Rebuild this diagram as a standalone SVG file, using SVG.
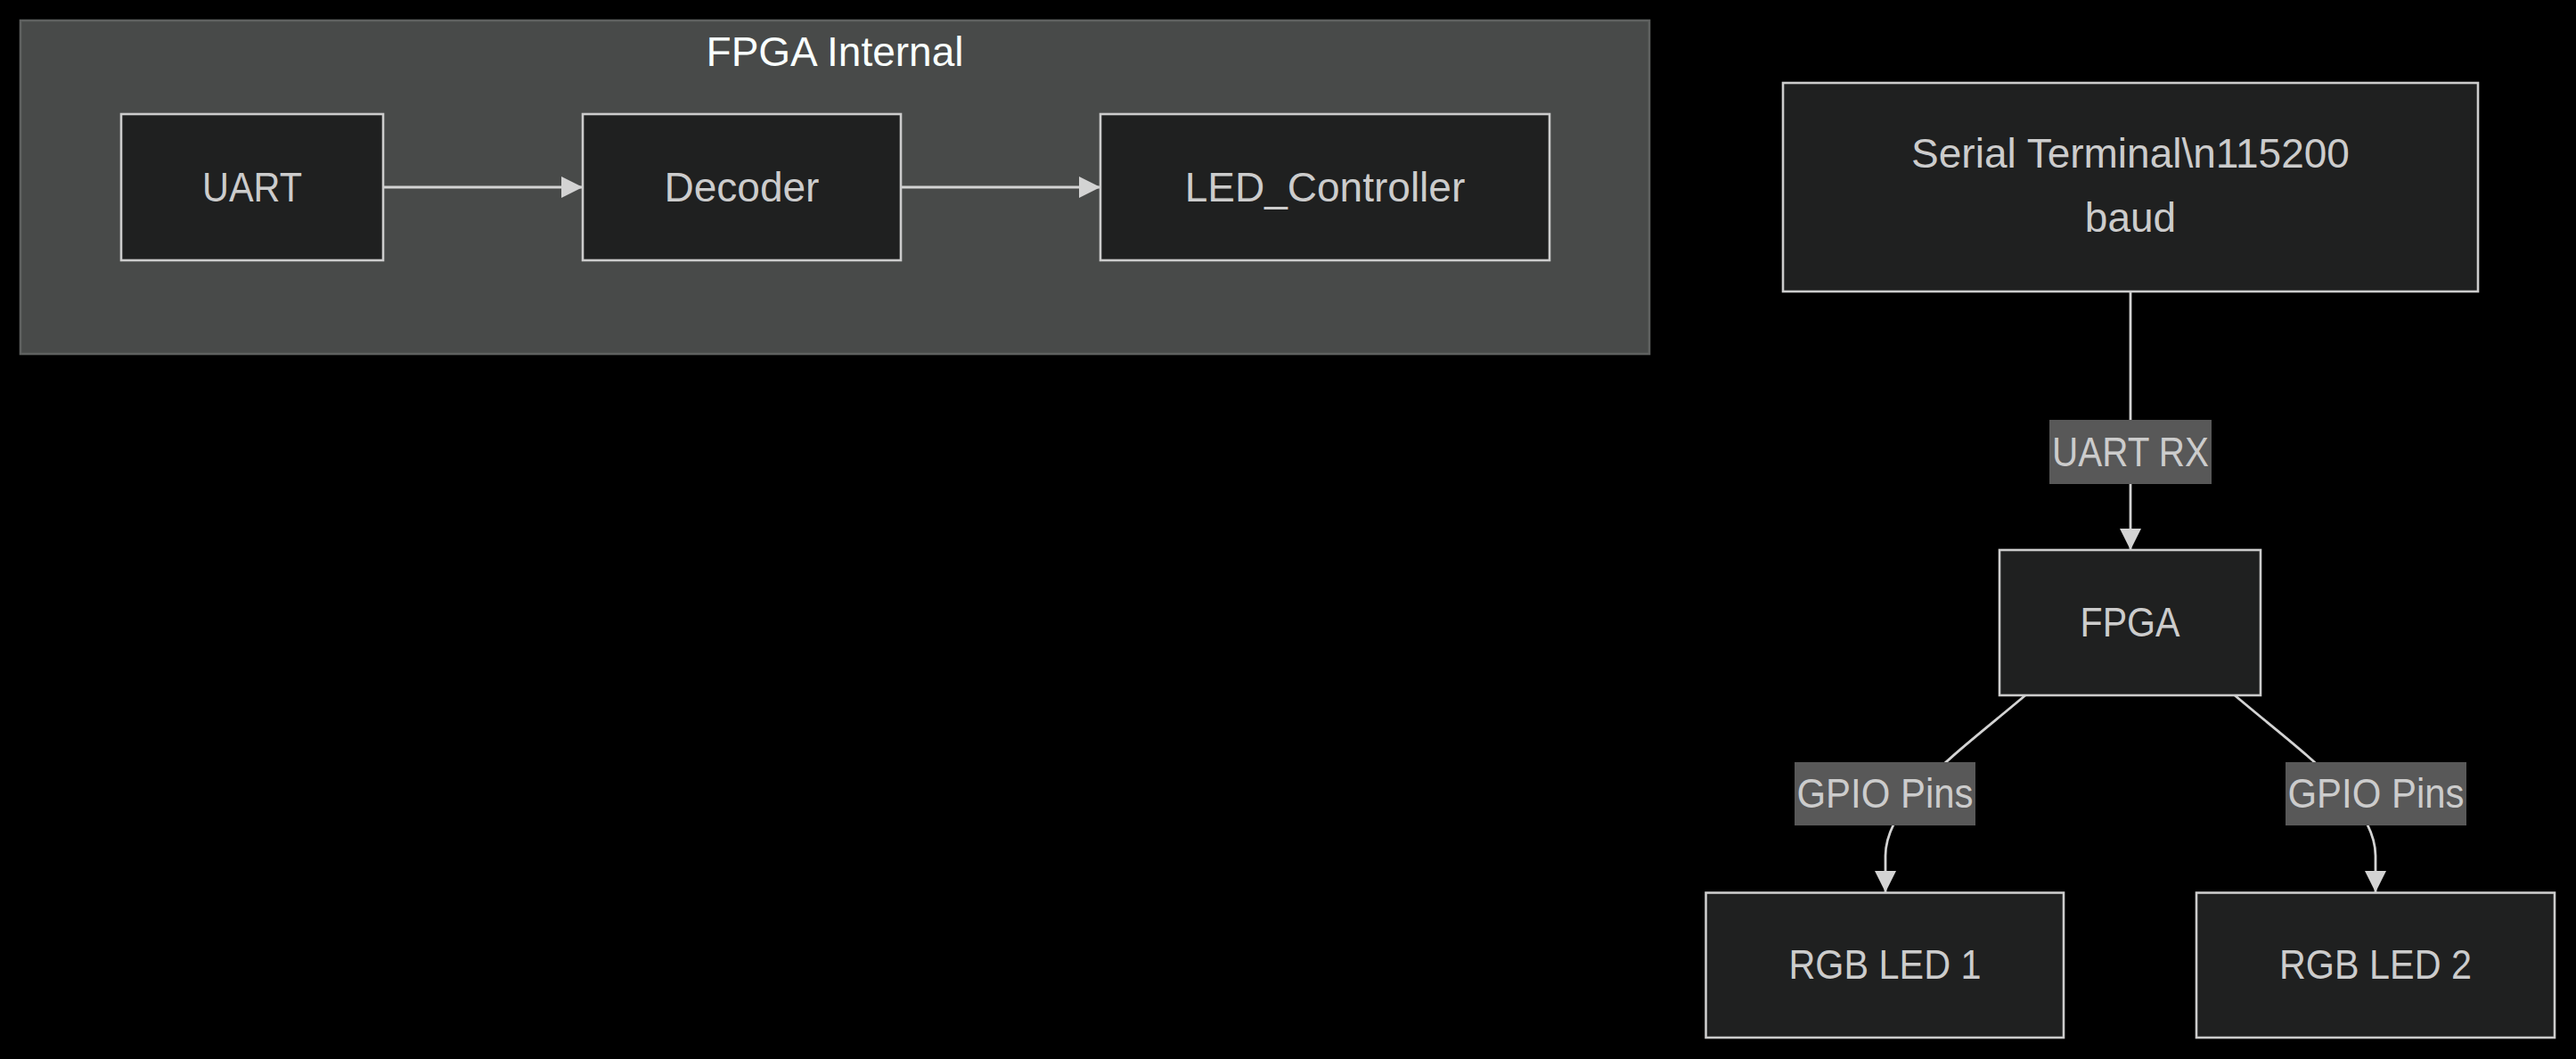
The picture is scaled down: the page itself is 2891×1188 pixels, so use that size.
<svg xmlns="http://www.w3.org/2000/svg" width="2891" height="1188" viewBox="0 0 2891 1188">
<style>
.node rect{fill:#1f2020;stroke:#cccccc;stroke-width:2.6}
.cluster rect{fill:#484a49;stroke:#5f6160;stroke-width:2.6}
.t{font-family:"Liberation Sans",Arial,sans-serif;font-size:46px;fill:#cccccc;text-anchor:middle}
.title{font-family:"Liberation Sans",Arial,sans-serif;font-size:46px;fill:#f9fffe;text-anchor:middle}
.edge{fill:none;stroke:#d3d3d3;stroke-width:2.8;marker-end:url(#arr)}
.lbl rect{fill:#585858}
</style>
<defs>
<marker id="arr" viewBox="0 0 10 10" refX="10" refY="5" markerUnits="userSpaceOnUse" markerWidth="24" markerHeight="24" orient="auto">
<path d="M0,0 L10,5 L0,10 z" fill="#d3d3d3"/>
</marker>
</defs>
<rect width="2891" height="1188" fill="#000"/>
<g id="cluster-fpga-internal" class="cluster">
<rect x="23" y="23" width="1828" height="374"/>
<text class="title" x="937" y="74">FPGA Internal</text>
</g>
<g id="connectors">
<path class="edge" d="M430,210 L654,210"/>
<path class="edge" d="M1011,210 L1235,210"/>
<path class="edge" d="M2391,327 L2391,617"/>
<path class="edge" d="M2273,780 C2200,842 2116,900 2116,960 L2116,1001"/>
<path class="edge" d="M2508,780 C2581,842 2666,900 2666,960 L2666,1001"/>
</g>
<g id="edge-labels">
<g class="lbl" id="label-uart-rx"><rect x="2300" y="471" width="182" height="72"/><text class="t" x="2391" y="523" textLength="176" lengthAdjust="spacingAndGlyphs">UART RX</text></g>
<g class="lbl" id="label-gpio-1"><rect x="2014" y="855" width="203" height="71"/><text class="t" x="2115.5" y="906" textLength="198" lengthAdjust="spacingAndGlyphs">GPIO Pins</text></g>
<g class="lbl" id="label-gpio-2"><rect x="2565" y="855" width="203" height="71"/><text class="t" x="2666.5" y="906" textLength="198" lengthAdjust="spacingAndGlyphs">GPIO Pins</text></g>
</g>
<g id="node-uart" class="node"><rect x="136" y="128" width="294" height="164"/><text class="t" x="283" y="226" textLength="112" lengthAdjust="spacingAndGlyphs">UART</text></g>
<g id="node-decoder" class="node"><rect x="654" y="128" width="357" height="164"/><text class="t" x="832.5" y="226">Decoder</text></g>
<g id="node-led-controller" class="node"><rect x="1235" y="128" width="504" height="164"/><text class="t" x="1487" y="226">LED_Controller</text></g>
<g id="node-serial-terminal" class="node"><rect x="2001" y="93" width="780" height="234"/><text class="t" x="2391" y="188">Serial Terminal\n115200</text><text class="t" x="2391" y="260">baud</text></g>
<g id="node-fpga" class="node"><rect x="2244" y="617" width="293" height="163"/><text class="t" x="2390.5" y="714" textLength="112" lengthAdjust="spacingAndGlyphs">FPGA</text></g>
<g id="node-rgb-led-1" class="node"><rect x="1914.5" y="1001.5" width="401.5" height="162.5"/><text class="t" x="2115.5" y="1098" textLength="216" lengthAdjust="spacingAndGlyphs">RGB LED 1</text></g>
<g id="node-rgb-led-2" class="node"><rect x="2465" y="1001.5" width="402" height="162.5"/><text class="t" x="2666" y="1098" textLength="216" lengthAdjust="spacingAndGlyphs">RGB LED 2</text></g>
</svg>
